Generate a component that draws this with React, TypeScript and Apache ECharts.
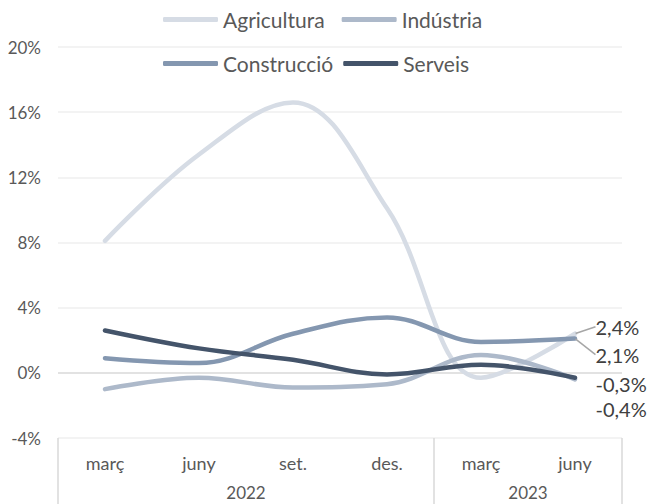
import React, { useEffect, useRef } from "react";
import * as echarts from "echarts";

const months = ["març", "juny", "set.", "des.", "març", "juny"];
const years = ["2022", "2023"];
const yearStarts = [0, 4];
const yearEnds = [4, 6];
const yTicks = [-4, 0, 4, 8, 12, 16, 20];

const seriesNames = ["Agricultura", "Indústria", "Construcció", "Serveis"];
const agricultura = [8.1, 13.4, 16.6, 10.1, -0.3, 2.4];
const industria = [-1.0, -0.3, -0.9, -0.7, 1.1, -0.4];
const construccio = [0.9, 0.6, 2.4, 3.4, 1.9, 2.1];
const serveis = [2.6, 1.5, 0.8, -0.1, 0.5, -0.3];

const colors = ["#d6dce5", "#adb9ca", "#8497b0", "#44546a"];
const labelShift = [-7, 30, 16, 6];
const showLeader = [true, false, true, false];

const FONT = "Lato, 'Open Sans', sans-serif";

const fmt = (v: number) => v.toFixed(1).replace(".", ",") + "%";

export default function App() {
  const ref = useRef<HTMLDivElement>(null);
  useEffect(() => {
    if (!ref.current) return;
    const chart = echarts.init(ref.current, null, { renderer: "svg" });
    const allData = [agricultura, industria, construccio, serveis];
    const yearMid = yearStarts.map((s, i) => (s + yearEnds[i]) / 2);
    const series = allData.map((arr, si) => ({
      name: seriesNames[si],
      type: "line",
      smooth: 0.38,
      symbol: "circle",
      symbolSize: 1,
      showAllSymbol: true,
      z: 2 + si,
      lineStyle: { width: 4.5, color: colors[si], cap: "round" },
      itemStyle: { color: colors[si] },
      label: { show: false },
      data: arr.map((v, i) =>
        i === arr.length - 1
          ? {
              value: v,
              label: {
                show: true,
                position: "right",
                distance: 20,
                formatter: (p: any) => fmt(p.value),
                color: "#404040",
                fontSize: 20,
                fontFamily: FONT,
              },
              labelLine: {
                show: showLeader[si],
                lineStyle: { color: "#a6a6a6", width: 1.5 },
              },
            }
          : v
      ),
      labelLayout: { dy: labelShift[si] },
    }));
    const legendBase = {
      left: 163,
      padding: 0,
      itemWidth: 55,
      itemHeight: 5,
      icon: "roundRect",
      textStyle: { fontSize: 21, color: "#595959", fontFamily: FONT },
    };
    chart.setOption({
      animation: false,
      textStyle: { fontFamily: FONT },
      grid: { left: 58, right: 25, top: 47, bottom: 66 },
      legend: [
        { ...legendBase, data: seriesNames.slice(0, 2), top: 9, itemGap: 17 },
        { ...legendBase, data: seriesNames.slice(2, 4), top: 53, itemGap: 10 },
      ],
      xAxis: [
        {
          type: "category",
          data: months,
          boundaryGap: true,
          position: "bottom",
          axisLine: { show: false },
          axisTick: { show: false },
          axisLabel: { color: "#595959", fontSize: 18, margin: 16, fontFamily: FONT },
        },
        {
          type: "value",
          min: 0,
          max: 6,
          position: "bottom",
          axisLine: { show: false },
          splitLine: { show: false },
          axisTick: {
            show: true,
            customValues: [...yearStarts, yearEnds[yearEnds.length - 1]],
            length: 70,
            lineStyle: { color: "#d9d9d9", width: 1.5 },
          },
          axisLabel: {
            show: true,
            customValues: yearMid,
            formatter: (v: number) => years[yearMid.indexOf(v)] ?? "",
            color: "#595959",
            fontSize: 17,
            margin: 46,
            fontFamily: FONT,
          },
        },
      ],
      yAxis: {
        type: "value",
        min: yTicks[0],
        max: yTicks[yTicks.length - 1],
        interval: 4,
        axisLine: { show: false },
        axisTick: { show: false },
        axisLabel: {
          formatter: (v: number) => v + "%",
          color: "#595959",
          fontSize: 17,
          margin: 17,
          fontFamily: FONT,
        },
        splitLine: {
          lineStyle: {
            color: yTicks.map((t) => (t === 0 ? "#d9d9d9" : "#efefef")),
            width: 1.5,
          },
        },
      },
      series,
    });
    return () => chart.dispose();
  }, []);
  return (
    <div
      ref={ref}
      style={{ position: "absolute", left: 0, top: 0, width: 647, height: 504 }}
    />
  );
}
